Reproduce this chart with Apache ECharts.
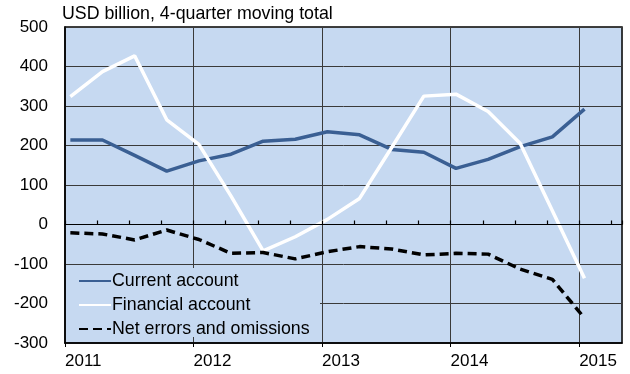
<!DOCTYPE html>
<html>
<head>
<meta charset="utf-8">
<script src="https://cdn.jsdelivr.net/npm/echarts@6/dist/echarts.min.js"></script>
<style>
  html, body { margin: 0; padding: 0; background: #ffffff; }
  #chart { width: 630px; height: 374px; }
</style>
</head>
<body>
<div id="chart"></div>
<script>
// Quarterly observations (first month of each quarter), USD billion, 4-quarter moving total
const periods = [
  '2011-01', '2011-04', '2011-07', '2011-10',
  '2012-01', '2012-04', '2012-07', '2012-10',
  '2013-01', '2013-04', '2013-07', '2013-10',
  '2014-01', '2014-04', '2014-07', '2014-10',
  '2015-01'
];
const currentAccount = [214, 214, 175, 135, 161, 178, 211, 216, 235, 227, 190, 183, 142, 165, 197, 222, 292];
const financialAccount = [324, 387, 427, 265, 203, 72, -67, -31, 13, 66, 195, 325, 330, 286, 205, 35, -136];
const netErrors = [-21, -24, -39, -14, -38, -73, -71, -87, -69, -56, -62, -77, -73, -75, -113, -139, -237];

const yearTicks = [2011, 2012, 2013, 2014, 2015];
const valueTicks = [-300, -200, -100, 0, 100, 200, 300, 400, 500];

const seriesNames = ['Current account', 'Financial account', 'Net errors and omissions'];
const unitTitle = 'USD billion, 4-quarter moving total';

// Month-based date axis: each point sits in the middle of its month
function toYear(p) {
  const [y, m] = p.split('-').map(Number);
  return y + (m - 0.5) / 12;
}
function pairs(values) {
  return periods.map((p, i) => [toYear(p), values[i]]);
}

const xMin = yearTicks[0];
const xMax = yearTicks[yearTicks.length - 1] + 4 / 12;
const yMin = valueTicks[0];
const yMax = valueTicks[valueTicks.length - 1];

const W = 630, H = 374;
const plot = { left: 65, right: 8, top: 27, bottom: 31 };
const plotH = H - plot.top - plot.bottom;
// pixel row of the zero line, for the quarter-tick baseline
const zeroY = plot.top + plotH * (yMax - 0) / (yMax - yMin);

const font = 'Liberation Sans, Arial, sans-serif';
const plotBg = '#c6d9f1';
const gridColor = '#3a3a3a';

const chart = echarts.init(document.getElementById('chart'), null, { renderer: 'canvas' });

chart.setOption({
  animation: false,
  backgroundColor: '#ffffff',
  textStyle: { fontFamily: font },
  title: {
    text: unitTitle,
    left: 62,
    top: 5,
    padding: 0,
    textStyle: { fontFamily: font, fontSize: 17.8, fontWeight: 'normal', color: '#000' }
  },
  grid: [{
    left: plot.left, right: plot.right, top: plot.top, bottom: plot.bottom,
    show: true,
    backgroundColor: plotBg,
    borderColor: '#000',
    borderWidth: 1.5
  }, {
    // zero baseline carrying the quarterly tick marks
    left: plot.left, right: plot.right, top: plot.top, bottom: H - zeroY,
    show: false
  }],
  graphic: [{
    type: 'rect',
    z: 3,
    shape: { x: 66, y: 268, width: 254, height: 69 },
    style: { fill: plotBg }
  }],
  legend: {
    orient: 'vertical',
    left: 78,
    top: 271,
    z: 5,
    itemWidth: 32,
    itemHeight: 14,
    itemGap: 4,
    padding: 0,
    data: seriesNames,
    itemStyle: { opacity: 0 },
    textStyle: { fontFamily: font, fontSize: 17.8, lineHeight: 20, color: '#000', padding: [0, 0, 0, -4] }
  },
  xAxis: [{
    type: 'value',
    gridIndex: 0,
    min: xMin, max: xMax, interval: 1,
    position: 'bottom',
    axisLine: { onZero: false, lineStyle: { color: '#000', width: 1.5 } },
    axisTick: { show: true, inside: false, length: 4, lineStyle: { color: '#000' } },
    axisLabel: {
      showMaxLabel: false,
      align: 'left',
      margin: 10,
      fontFamily: font, fontSize: 17, color: '#000',
      formatter: v => yearTicks.includes(Math.round(v)) ? String(Math.round(v)) : ''
    },
    splitLine: { show: true, lineStyle: { color: gridColor, width: 1 } }
  }, {
    type: 'value',
    gridIndex: 1,
    z: 6,
    min: xMin, max: xMax, interval: 0.25,
    position: 'bottom',
    axisLine: { onZero: false, lineStyle: { color: '#000', width: 1.2 } },
    axisTick: { show: true, inside: true, length: 4, lineStyle: { color: '#000', width: 1.2 } },
    axisLabel: { show: false },
    splitLine: { show: false }
  }],
  yAxis: [{
    type: 'value',
    gridIndex: 0,
    min: yMin, max: yMax, interval: 100,
    axisLine: { show: true, lineStyle: { color: '#000', width: 1.5 } },
    axisTick: { show: false },
    axisLabel: { margin: 17, fontFamily: font, fontSize: 17, color: '#000' },
    splitLine: { show: true, lineStyle: { color: gridColor, width: 1 } }
  }, {
    type: 'value',
    gridIndex: 1,
    min: 0, max: 1,
    axisLine: { show: false },
    axisTick: { show: false },
    axisLabel: { show: false },
    splitLine: { show: false }
  }],
  series: [{
    name: seriesNames[0],
    type: 'line',
    data: pairs(currentAccount),
    showSymbol: false,
    symbol: 'none',
    z: 2,
    lineStyle: { color: '#3a5f93', width: 3.5 },
    itemStyle: { color: '#3a5f93' }
  }, {
    name: seriesNames[1],
    type: 'line',
    data: pairs(financialAccount),
    showSymbol: false,
    symbol: 'none',
    z: 2,
    lineStyle: { color: '#ffffff', width: 3.5 },
    itemStyle: { color: '#ffffff' }
  }, {
    name: seriesNames[2],
    type: 'line',
    data: pairs(netErrors),
    showSymbol: false,
    symbol: 'none',
    z: 2,
    lineStyle: { color: '#000000', width: 3.5, type: [9, 5] },
    itemStyle: { color: '#000000' }
  }]
});
</script>
</body>
</html>
